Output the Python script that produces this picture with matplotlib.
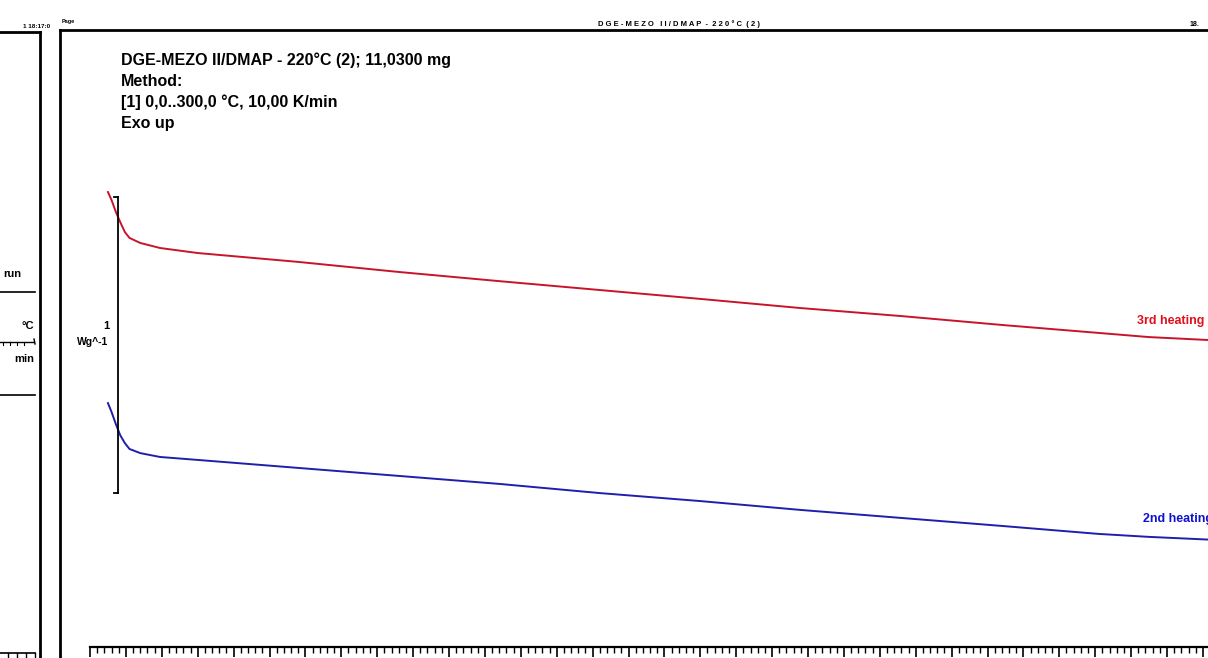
import matplotlib.pyplot as plt
from matplotlib.lines import Line2D
import numpy as np

plt.rcParams['font.family'] = ['Liberation Sans', 'DejaVu Sans']

# DSC curves, temperature in degC, heat flow in W/g (exo up)
temp_3rd = [5, 6, 7.2, 8.4, 9.7, 11, 14, 19.5, 30, 58, 86, 114, 142, 170, 198, 226, 254, 281, 295, 315]
flow_3rd = [1.537, 1.510, 1.470, 1.436, 1.402, 1.382, 1.365, 1.348, 1.331, 1.301, 1.267, 1.236,
            1.206, 1.176, 1.145, 1.118, 1.088, 1.061, 1.047, 1.035]
temp_2nd = [5, 6, 7.2, 8.4, 9.7, 11, 14, 19.5, 30, 58, 86, 114, 142, 170, 198, 226, 254, 281, 295, 315]
flow_2nd = [0.824, 0.794, 0.753, 0.716, 0.689, 0.669, 0.655, 0.642, 0.632, 0.605, 0.578, 0.551,
            0.520, 0.493, 0.463, 0.436, 0.409, 0.382, 0.372, 0.361]

x_ticks = list(range(0, 330, 10))
scale_bar = (0.52, 1.52)  # 1 W/g

header_lines = ['DGE-MEZO II/DMAP - 220°C (2); 11,0300 mg',
                'Method:',
                '[1] 0,0..300,0 °C, 10,00 K/min',
                'Exo up']

W, H = 1208, 658
fig = plt.figure(figsize=(W / 100, H / 100), dpi=100)


def fx(px):
    return px / W


def fy(py):
    return 1 - py / H


def fig_line(xs, ys, lw=1.5, color='black'):
    fig.add_artist(Line2D([fx(x) for x in xs], [fy(y) for y in ys],
                          lw=lw, color=color, transform=fig.transFigure))


# data axes: 0 degC at x=90 px, 3.59 px per degC; 0 W/g at y=647 px, 296 px per W/g
x_px0, px_per_c = 90, 3.59
y_px0, px_per_w = 647, 296
xmax = 320
top_px = 30
ax = fig.add_axes([fx(x_px0), fy(y_px0), xmax * px_per_c / W, (y_px0 - top_px) / H])
ax.set_xlim(0, xmax)
ax.set_ylim(0, (y_px0 - top_px) / px_per_w)
ax.patch.set_alpha(0)
for s in ['top', 'right', 'left']:
    ax.spines[s].set_visible(False)
ax.spines['bottom'].set_linewidth(1.6)
ax.set_yticks([])
ax.set_xticks(x_ticks)
ax.set_xticks(np.arange(0, xmax + 1, 2), minor=True)
ax.tick_params(axis='x', which='major', direction='out', length=7, width=1.2, pad=1,
               labelsize=8, labelcolor='#555555')
ax.tick_params(axis='x', which='minor', direction='out', length=4.5, width=1.0)

ax.plot(temp_3rd, flow_3rd, color='#c8142a', lw=1.4)
ax.plot(temp_2nd, flow_2nd, color='#1f1faa', lw=1.4)
ax.text(291.6, 1.10, '3rd heating', color='#e0101c', fontsize=9, fontweight='bold',
        va='center', ha='left', clip_on=False)
ax.text(293.3, 0.432, '2nd heating', color='#1010d0', fontsize=9, fontweight='bold',
        va='center', ha='left', clip_on=False)

# scale bar
sb_x = (118 - x_px0) / px_per_c
ax.plot([sb_x, sb_x], scale_bar, color='black', lw=1.3)
ax.plot([sb_x - 1.2, sb_x], [scale_bar[0]] * 2, color='black', lw=1.3)
ax.plot([sb_x - 1.2, sb_x], [scale_bar[1]] * 2, color='black', lw=1.3)
fig.text(fx(109), fy(326), '1', fontsize=8, fontweight='bold', ha='right', va='center')
fig.text(fx(108), fy(342), 'Wg^-1', fontsize=7.5, fontweight='bold', ha='right', va='center')

# sample / method annotation
for i, line in enumerate(header_lines):
    fig.text(fx(121), fy(60 + i * 21.3), line, fontsize=11.5, fontweight='bold',
             ha='left', va='center')

# page frame
fig_line([60, W], [30, 30], lw=2)
fig_line([60, 60], [30, H], lw=2)
fig_line([0, 40], [32, 32], lw=2)
fig_line([40, 40], [32, H], lw=2)

# left info panel
fig.text(fx(21), fy(274), 'run', fontsize=8, fontweight='bold', ha='right', va='center')
fig_line([0, 35], [292, 292], lw=1.2)
fig.text(fx(34), fy(326), '°C', fontsize=8, fontweight='bold', ha='right', va='center')
fig_line([0, 34], [342, 342], lw=1.0)
for tx in [3, 10, 17, 24]:
    fig_line([tx, tx], [342, 345], lw=0.8)
fig_line([34, 35], [339, 344], lw=1.0)
fig.text(fx(34), fy(359), 'min', fontsize=8, fontweight='bold', ha='right', va='center')
fig_line([0, 35], [395, 395], lw=1.2)
fig_line([0, 35], [653, 653], lw=1.2)
for tx in [8, 17, 26, 35]:
    fig_line([tx, tx], [653, 658], lw=1.0)

# header strip
fig.text(fx(50), fy(26), '1 18:17:0', fontsize=4.5, fontweight='bold', ha='right', va='center')
fig.text(fx(62), fy(21), 'Page', fontsize=4, fontweight='bold', ha='left', va='center')
fig.text(fx(679), fy(24), 'D G E - M E Z O   I I / D M A P  -  2 2 0 ° C  ( 2 )', fontsize=5.5,
         fontweight='bold', ha='center', va='center')
fig.text(fx(1190), fy(24), '18.', fontsize=5, fontweight='bold', ha='left', va='center')

fig.savefig('out.png', dpi=100)
